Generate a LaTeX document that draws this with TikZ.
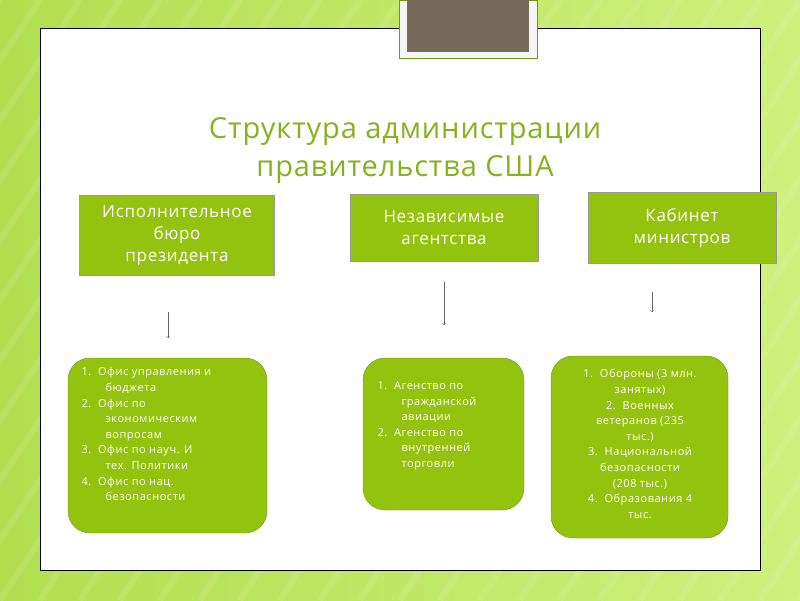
\documentclass[tikz,border=0pt]{standalone}
\usepackage{fontspec}
\setmainfont{Open Sans}
\begin{document}
\begin{tikzpicture}[x=1pt,y=-1pt,
  topbox/.style={draw=black!40,fill=boxg,text=white,align=center,font=\fontsize{17}{22}\selectfont\addfontfeatures{LetterSpace=4},inner sep=2pt},
  listbox/.style={draw=boxd,fill=boxg,rounded corners=22pt,text=white},
  listtext/.style={text=white,font=\fontsize{11}{15.6}\selectfont\addfontfeatures{LetterSpace=5}},
  arr/.style={-to,draw=black!60,thin}]
\definecolor{boxg}{HTML}{93C30E}
\definecolor{boxd}{HTML}{6E9A12}
\definecolor{titleg}{HTML}{86B21E}
\definecolor{bgl}{RGB}{178,222,80}
\definecolor{bgr}{RGB}{208,240,125}
\definecolor{tabb}{RGB}{116,105,90}
\useasboundingbox (0,0) rectangle (800,600);
\shade[left color=bgl,right color=bgr] (0,0) rectangle (800,600);
\foreach \i in {0,40,...,1200}{\draw[white,opacity=0.1,line width=6pt] (\i-400,600) -- (\i,0);}
\node[draw=black,fill=white,minimum width=720,minimum height=542,anchor=north west,inner sep=0] (slide) at (40,28) {};
\fill[fill=black!4,draw=boxd] (399,0) rectangle (537,58);
\fill[tabb] (407,0) rectangle (529,52);
\node[text=titleg,align=center,font=\fontsize{29}{38}\selectfont\addfontfeatures{LetterSpace=3}] (title) at (405,150) {Структура администрации\\правительства США};
\node[topbox,minimum width=195,minimum height=80] (b1) at (177,235) {Исполнительное\\бюро\\президента};
\node[topbox,minimum width=188,minimum height=67] (b2) at (444,228) {Независимые\\агентства};
\node[topbox,minimum width=188,minimum height=71] (b3) at (682,228) {Кабинет\\министров};
\coordinate (a1s) at (168,312); \coordinate (a1e) at (168,338);
\coordinate (a2s) at (444,282); \coordinate (a2e) at (444,325);
\coordinate (a3s) at (652,292); \coordinate (a3e) at (652,312);
\draw[arr] (a1s) -- (a1e); \draw[arr] (a2s) -- (a2e); \draw[arr] (a3s) -- (a3e);
\node[listbox,minimum width=199,minimum height=175] (l1) at (167.5,445.5) {};
\node[listbox,minimum width=161,minimum height=152] (l2) at (443.5,434) {};
\node[listbox,minimum width=177,minimum height=182] (l3) at (639.5,447) {};
\node[listtext,anchor=north west,align=left] (t1) at (78,364) {%
1.\ \ Офис управления и\\\hspace*{24pt}бюджета\\2.\ \ Офис по\\\hspace*{24pt}экономическим\\\hspace*{24pt}вопросам\\3.\ \ Офис по науч. И\\\hspace*{24pt}тех. Политики\\4.\ \ Офис по нац.\\\hspace*{24pt}безопасности};
\node[listtext,anchor=north west,align=left] (t2) at (374,378) {%
1.\ \ Агенство по\\\hspace*{24pt}гражданской\\\hspace*{24pt}авиации\\2.\ \ Агенство по\\\hspace*{24pt}внутренней\\\hspace*{24pt}торговли};
\node[listtext,anchor=north,align=center] (t3) at (640,366) {%
1.\ \ Обороны (3 млн.\\занятых)\\2.\ \ Военных\\ветеранов (235\\тыс.)\\3.\ \ Национальной\\безопасности\\(208 тыс.)\\4.\ \ Образования 4\\тыс.};
\end{tikzpicture}
\end{document}
